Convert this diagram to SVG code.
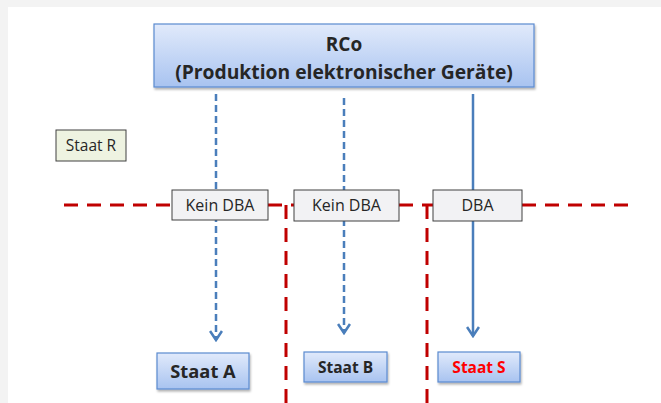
<svg xmlns="http://www.w3.org/2000/svg" width="661" height="403" viewBox="0 0 661 403">
<defs>
<linearGradient id="blueGrad" x1="0" y1="0" x2="0" y2="1">
<stop offset="0" stop-color="#e1eafb"/>
<stop offset="1" stop-color="#a8c3f0"/>
</linearGradient>
<filter id="shadow" x="-10%" y="-10%" width="130%" height="140%">
<feDropShadow dx="1" dy="2" stdDeviation="1.2" flood-color="#000" flood-opacity="0.3"/>
</filter>
<marker id="arrowD" viewBox="0 0 14 14" refX="12" refY="7" markerWidth="14" markerHeight="14" markerUnits="userSpaceOnUse" orient="auto">
<path d="M3,1 L12,7 L3,13" fill="none" stroke="#4a7ebb" stroke-width="2.6"/>
</marker>
</defs>
<style>
.blue { fill: url(#blueGrad); stroke: #5b8bd0; stroke-width: 1.2; filter: url(#shadow); }
.label { fill: #f2f2f4; stroke: #404040; stroke-width: 1; }
.tbold { font-family: "Open Sans", "Liberation Sans", sans-serif; font-weight: bold; fill: #262626; text-anchor: middle; }
.treg { font-family: "Open Sans", "Liberation Sans", sans-serif; fill: #262626; text-anchor: middle; }
.red { fill: none; stroke: #c00000; stroke-width: 3; stroke-dasharray: 14 9; }
.dash { stroke: #4a7ebb; stroke-width: 2.5; stroke-dasharray: 7 4; fill: none; }
.solid { stroke: #4a7ebb; stroke-width: 2.5; fill: none; }
</style>
<rect x="0" y="0" width="661" height="403" fill="#f3f3f3"/>
<rect x="8" y="7" width="653" height="396" fill="#ffffff"/>

<g id="borders">
<path class="red" d="M64,205 H172"/>
<path class="red" d="M268,205 H294"/>
<path class="red" d="M399,205 H433"/>
<path class="red" d="M522,205 H636"/>
<path class="red" d="M286,403 V205 H294"/>
<path class="red" d="M427,403 V205 H433"/>
</g>

<g id="connectors">
<path class="dash" d="M216,94 V340" marker-end="url(#arrowD)"/>
<path class="dash" d="M344,98 V333" marker-end="url(#arrowD)"/>
<path class="solid" d="M473,94 V336" marker-end="url(#arrowD)"/>
</g>

<g id="rco">
<rect class="blue" x="154" y="24" width="380" height="63"/>
<text class="tbold" x="344" y="51" font-size="19">RCo</text>
<text class="tbold" x="344" y="79" font-size="19.3">(Produktion elektronischer Geräte)</text>
</g>

<g id="staat-r">
<rect x="56" y="130" width="70" height="31" fill="#eef3e1" stroke="#404040" stroke-width="1"/>
<text class="treg" x="91" y="151" font-size="15.5">Staat R</text>
</g>

<g id="kein-dba-1">
<rect class="label" x="172" y="190" width="96" height="30"/>
<text class="treg" x="220" y="211" font-size="16">Kein DBA</text>
</g>
<g id="kein-dba-2">
<rect class="label" x="294" y="190" width="105" height="31"/>
<text class="treg" x="346.5" y="211" font-size="16">Kein DBA</text>
</g>
<g id="dba">
<rect class="label" x="433" y="190" width="89" height="31"/>
<text class="treg" x="477.5" y="211" font-size="16">DBA</text>
</g>

<g id="staat-a">
<rect class="blue" x="157" y="353" width="92" height="36"/>
<text class="tbold" x="203" y="378" font-size="18.3">Staat A</text>
</g>
<g id="staat-b">
<rect class="blue" x="304" y="352" width="83" height="30"/>
<text class="tbold" x="345.5" y="372.5" font-size="15.5">Staat B</text>
</g>
<g id="staat-s">
<rect class="blue" x="438" y="352" width="82" height="30"/>
<text class="tbold" x="479" y="372.5" font-size="15.5" style="fill:#ff0000">Staat S</text>
</g>
</svg>
